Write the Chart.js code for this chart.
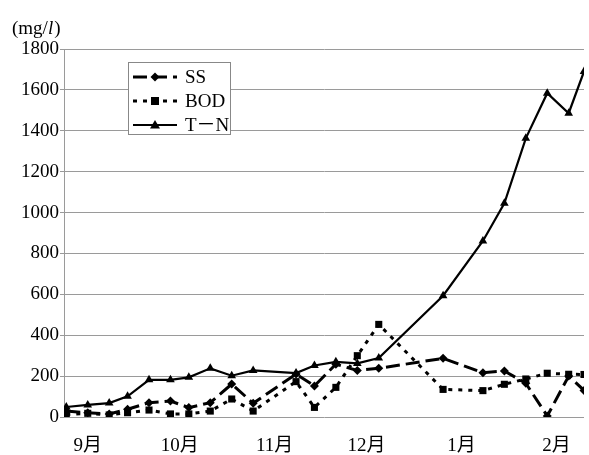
<!DOCTYPE html>
<html>
<head>
<meta charset="utf-8">
<script src="https://cdn.jsdelivr.net/npm/chart.js@4/dist/chart.umd.min.js"></script>
<style>
    html, body { margin: 0; padding: 0; background: #fff; }
    canvas { display: block; }
</style>
</head>
<body>
<canvas id="waterChart" width="589" height="455"></canvas>
<script>
// sampling days, counted from Sep 1 (negative = late August)
const sampleDays = [-7, 0, 7, 13, 20, 27, 33, 40, 47, 54, 68, 74, 81, 88, 95, 116, 129, 136, 143, 150, 157, 162];
const ssValues = [29, 21, 15, 38, 70, 78, 46, 70, 161, 67, 210, 152, 258, 228, 238, 287, 217, 225, 165, 5, 200, 130];
const bodValues = [12, 18, 10, 21, 34, 15, 15, 29, 88, 29, 173, 47, 145, 300, 453, 135, 129, 160, 186, 214, 209, 208];
const tnValues = [49, 59, 68, 101, 182, 182, 194, 238, 202, 228, 215, 252, 270, 262, 288, 593, 861, 1045, 1363, 1584, 1486, 1690];
const seriesNames = ['SS', 'BOD', 'T－N'];
const monthLabels = ['9月', '10月', '11月', '12月', '1月', '2月'];
const monthStartDays = [0, 30, 61, 91, 122, 153];
const yTicks = [0, 200, 400, 600, 800, 1000, 1200, 1400, 1600, 1800];

const SERIF = '"Liberation Serif", "Noto Sans CJK JP", serif';

function toPoints(values) {
    return values.map((v, i) => ({ x: sampleDays[i], y: v }));
}

// unit label and the boxed legend drawn on top of the plot
const overlayPlugin = {
    id: 'overlay',
    afterDraw(chart) {
        const ctx = chart.ctx;
        ctx.save();
        ctx.fillStyle = '#000';
        ctx.textBaseline = 'alphabetic';

        // (mg/l) with italic l
        let x = 12;
        const y = 34;
        ctx.font = '19px ' + SERIF;
        ctx.fillText('(mg/', x, y);
        x += ctx.measureText('(mg/').width;
        ctx.font = 'italic 19px ' + SERIF;
        ctx.fillText('l', x, y);
        x += ctx.measureText('l').width + 1;
        ctx.font = '19px ' + SERIF;
        ctx.fillText(')', x, y);

        // legend box
        const bx = 128, by = 62, bw = 102, bh = 72;
        ctx.fillStyle = '#fff';
        ctx.fillRect(bx, by, bw, bh);
        ctx.strokeStyle = '#888';
        ctx.lineWidth = 1;
        ctx.strokeRect(bx + 0.5, by + 0.5, bw, bh);

        chart.data.datasets.forEach((ds, i) => {
            const ry = by + 15 + i * 24;
            ctx.strokeStyle = '#000';
            ctx.lineWidth = ds.borderWidth;
            ctx.setLineDash(ds.borderDash || []);
            ctx.beginPath();
            ctx.moveTo(133, ry);
            ctx.lineTo(177, ry);
            ctx.stroke();
            ctx.setLineDash([]);
            drawMarker(ctx, ds.pointStyle, 155, ry, ds.pointRadius);
            ctx.fillStyle = '#000';
            ctx.font = '19px ' + SERIF;
            ctx.textBaseline = 'middle';
            ctx.fillText(ds.label, 185, ry + 1);
        });
        ctx.restore();
    }
};

function drawMarker(ctx, style, x, y, r) {
    ctx.fillStyle = '#000';
    ctx.beginPath();
    if (style === 'rectRot') {
        ctx.moveTo(x, y - r);
        ctx.lineTo(x + r, y);
        ctx.lineTo(x, y + r);
        ctx.lineTo(x - r, y);
    } else if (style === 'rect') {
        ctx.rect(x - r * 0.8, y - r * 0.8, r * 1.6, r * 1.6);
    } else {
        ctx.moveTo(x, y - r);
        ctx.lineTo(x + r, y + r * 0.7);
        ctx.lineTo(x - r, y + r * 0.7);
    }
    ctx.closePath();
    ctx.fill();
}

new Chart(document.getElementById('waterChart'), {
    type: 'line',
    data: {
        datasets: [{
            label: seriesNames[0],
            data: toPoints(ssValues),
            borderColor: '#000',
            backgroundColor: '#000',
            borderWidth: 3,
            borderDash: [14, 6],
            pointStyle: 'rectRot',
            pointRadius: 4.5,
            pointBorderWidth: 0
        }, {
            label: seriesNames[1],
            data: toPoints(bodValues),
            borderColor: '#000',
            backgroundColor: '#000',
            borderWidth: 3,
            borderDash: [4, 6],
            pointStyle: 'rect',
            pointRadius: 5,
            pointBorderWidth: 0
        }, {
            label: seriesNames[2],
            data: toPoints(tnValues),
            borderColor: '#000',
            backgroundColor: '#000',
            borderWidth: 2.2,
            pointStyle: 'triangle',
            pointRadius: 5,
            pointBorderWidth: 0
        }]
    },
    options: {
        responsive: false,
        animation: false,
        devicePixelRatio: 1,
        layout: { padding: { top: 49, left: 0, right: 0, bottom: 0 } },
        plugins: {
            legend: { display: false },
            tooltip: { enabled: false }
        },
        elements: { line: { tension: 0 } },
        scales: {
            x: {
                type: 'linear',
                min: -7.75,
                max: 162,
                afterBuildTicks: scale => {
                    scale.ticks = monthStartDays.map(v => ({ value: v }));
                },
                afterFit: scale => { scale.height = 38; },
                ticks: {
                    autoSkip: false,
                    maxRotation: 0,
                    padding: 10,
                    color: '#000',
                    font: { family: SERIF, size: 19 },
                    callback: value => monthLabels[monthStartDays.indexOf(value)]
                },
                grid: { display: false },
                border: { display: false }
            },
            y: {
                min: 0,
                max: 1800,
                afterBuildTicks: scale => {
                    scale.ticks = yTicks.map(v => ({ value: v }));
                },
                afterFit: scale => { scale.width = 64; },
                ticks: {
                    padding: 1,
                    color: '#000',
                    font: { family: SERIF, size: 19 },
                    callback: value => String(value)
                },
                grid: { color: '#9a9a9a', lineWidth: 1, drawTicks: true, tickLength: 4 },
                border: { color: '#9a9a9a' }
            }
        }
    },
    plugins: [overlayPlugin]
});
</script>
</body>
</html>
